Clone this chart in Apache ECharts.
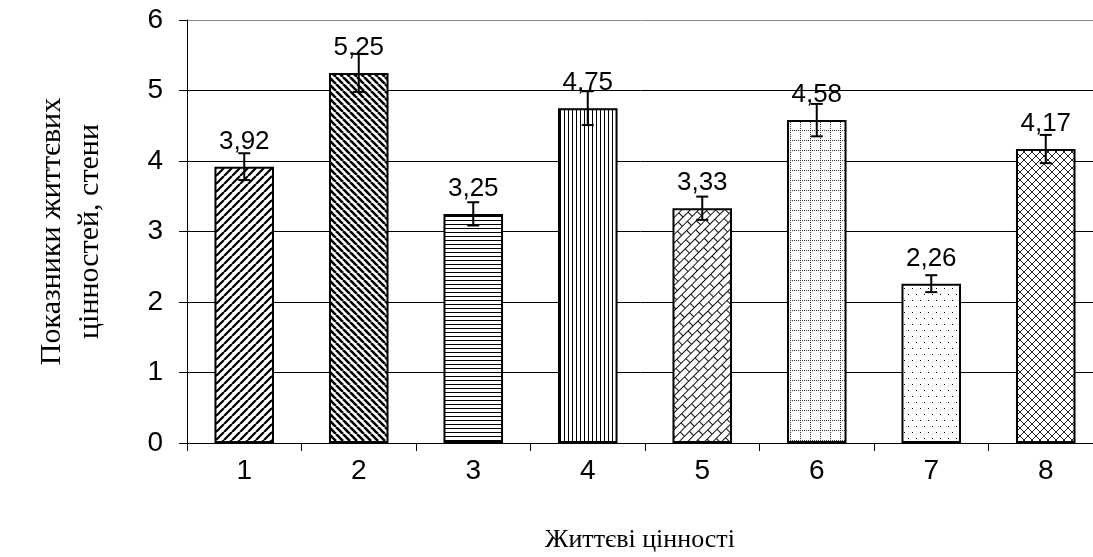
<!DOCTYPE html>
<html><head><meta charset="utf-8">
<script src="https://cdn.jsdelivr.net/npm/echarts@6/dist/echarts.min.js"></script>
<style>html,body{margin:0;padding:0;background:#fff;overflow:hidden}#c{width:1093px;height:557px}</style>
</head><body><div id="c"></div>
<script>
const categories = ['1', '2', '3', '4', '5', '6', '7', '8'];
const values = [3.92, 5.25, 3.25, 4.75, 3.33, 4.58, 2.26, 4.17];
const errors = [0.19, 0.27, 0.165, 0.24, 0.165, 0.23, 0.12, 0.2];
const yTickValues = [0, 1, 2, 3, 4, 5, 6];
const xAxisTitle = 'Життєві цінності';
const yAxisTitle = 'Показники життєвих\nцінностей, стени';

function tile(w, h, draw) {
  const c = document.createElement('canvas');
  c.width = w; c.height = h;
  const g = c.getContext('2d');
  g.fillStyle = '#fff'; g.fillRect(0, 0, w, h);
  g.strokeStyle = '#000'; g.fillStyle = '#000';
  draw(g, w, h);
  return c;
}
const patterns = [
  {image: tile(8, 8, (g, w, h) => { g.lineWidth = 2.2; g.beginPath(); for (let k = -1; k <= 1; k++) { g.moveTo(k * w, h); g.lineTo(k * w + w, 0); } g.stroke(); }), repeat: 'repeat'},
  {image: tile(7, 7, (g, w, h) => { g.lineWidth = 2.6; g.beginPath(); for (let k = -1; k <= 1; k++) { g.moveTo(k * w, 0); g.lineTo(k * w + w, h); } g.stroke(); }), repeat: 'repeat'},
  {image: tile(4, 4, (g) => { g.fillRect(0, 0, 4, 1); }), repeat: 'repeat'},
  {image: tile(4, 4, (g) => { g.fillRect(0, 0, 1, 4); }), repeat: 'repeat'},
  {image: tile(14, 12, (g) => { g.fillStyle = '#111'; g.fillRect(0, 0, 14, 1); g.fillRect(0, 6, 14, 1); g.fillRect(0, 0, 1, 6); g.fillRect(7, 6, 1, 6); }), repeat: 'repeat', rotation: -Math.PI / 4},
  {image: tile(10, 10, (g) => { g.fillStyle = '#333'; for (let i = 0; i < 10; i += 2) { g.fillRect(i, 0, 1, 1); g.fillRect(0, i, 1, 1); } }), repeat: 'repeat'},
  {image: tile(8, 12, (g) => { g.fillRect(0, 0, 1, 1); g.fillRect(4, 6, 1, 1); }), repeat: 'repeat'},
  {image: tile(8, 8, (g, w, h) => { g.strokeStyle = '#222'; g.lineWidth = 1; g.beginPath(); for (let k = -1; k <= 1; k++) { g.moveTo(k * w, h); g.lineTo(k * w + w, 0); g.moveTo(k * w, 0); g.lineTo(k * w + w, h); } g.stroke(); }), repeat: 'repeat'}
];

const chart = echarts.init(document.getElementById('c'), null, {renderer: 'canvas'});
chart.setOption({
  backgroundColor: '#fff',
  animation: false,
  grid: {left: 187, right: -10, top: 20, bottom: 114, containLabel: false, outerBoundsMode: 'none'},
  xAxis: {
    type: 'category', data: categories,
    name: xAxisTitle, nameLocation: 'middle', nameGap: 84,
    nameTextStyle: {fontFamily: 'Liberation Serif', fontSize: 26, color: '#000', padding: [0, 10, 0, 0]},
    axisLine: {lineStyle: {color: '#000', width: 1}},
    axisTick: {show: true, length: 8, lineStyle: {color: '#000'}},
    axisLabel: {fontFamily: 'Liberation Sans', fontSize: 28, color: '#000', margin: 14}
  },
  yAxis: {
    type: 'value', min: 0, max: 6, interval: 1,
    name: yAxisTitle, nameLocation: 'middle', nameGap: 78,
    nameTextStyle: {fontFamily: 'Liberation Serif', fontSize: 30, color: '#000', lineHeight: 38, align: 'center'},
    axisLine: {show: true, lineStyle: {color: '#000', width: 1}},
    axisTick: {show: true, length: 8, lineStyle: {color: '#000'}},
    axisLabel: {fontFamily: 'Liberation Sans', fontSize: 28, color: '#000', margin: 24,
      formatter: v => yTickValues.includes(v) ? String(v) : ''},
    splitLine: {show: true, lineStyle: {color: ['#000', '#000', '#000', '#000', '#000', '#000', '#888'], width: 1}}
  },
  series: [
    {
      type: 'bar', barWidth: '52%',
      data: values.map((v, i) => ({value: v, itemStyle: {color: patterns[i], borderColor: '#000', borderWidth: 2}})),
      label: {show: true, position: 'top', distance: 12, fontFamily: 'Liberation Sans', fontSize: 26, color: '#000',
        formatter: p => p.value.toFixed(2).replace('.', ',')}
    },
    {
      type: 'custom', z: 5,
      data: values.map((v, i) => [i, v, errors[i]]),
      renderItem: (params, api) => {
        const i = api.value(0), v = api.value(1), e = api.value(2);
        const t = api.coord([i, v + e]), b = api.coord([i, v - e]);
        const cap = 6;
        const st = {stroke: '#000', lineWidth: 2};
        return {type: 'group', children: [
          {type: 'line', shape: {x1: t[0], y1: t[1], x2: b[0], y2: b[1]}, style: st},
          {type: 'line', shape: {x1: t[0] - cap, y1: t[1], x2: t[0] + cap, y2: t[1]}, style: st},
          {type: 'line', shape: {x1: b[0] - cap, y1: b[1], x2: b[0] + cap, y2: b[1]}, style: st}
        ]};
      }
    }
  ]
});
</script></body></html>
